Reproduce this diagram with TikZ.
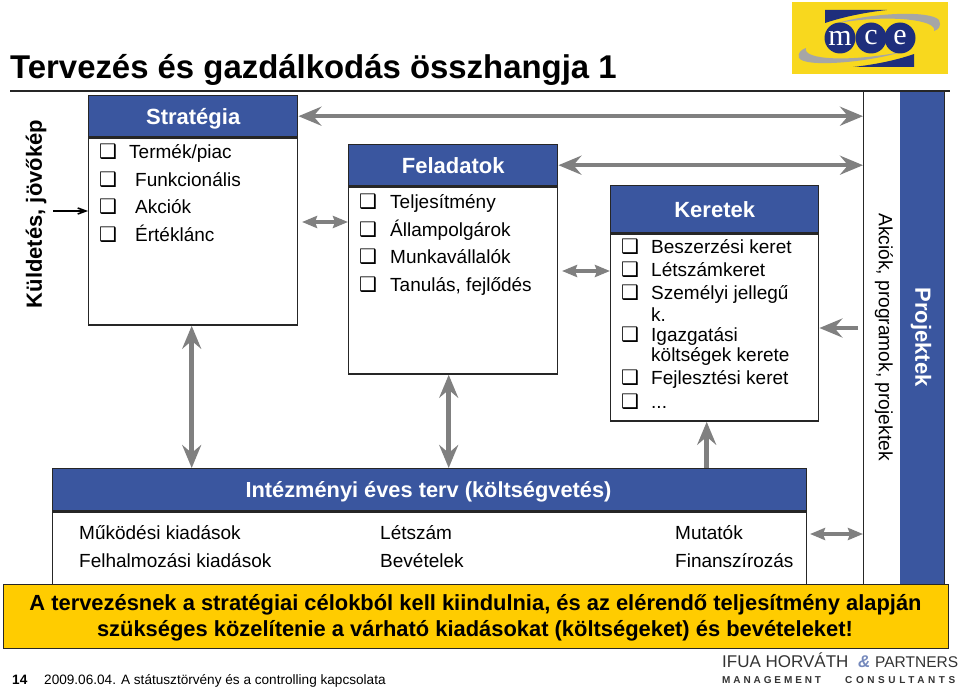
\documentclass[tikz,border=0pt]{standalone}
\usepackage{fontspec}
\setmainfont{Liberation Sans}
\newfontfamily\boxfont{DejaVu Sans}
\newfontfamily\logofont{Liberation Serif}
\usetikzlibrary{positioning,arrows.meta}
\definecolor{headblue}{HTML}{3A569F}
\definecolor{arrowgray}{HTML}{808080}
\definecolor{noteyellow}{HTML}{FFCC00}
\definecolor{logoyellow}{HTML}{F8D81E}
\definecolor{logoblue}{HTML}{1E2E7C}
\newcommand{\fs}[1]{\fontsize{#1}{#1}\selectfont}
\newcommand{\chk}{{\boxfont\fs{20}\symbol{"2751}}}
\begin{document}
\begin{tikzpicture}[
    x=1pt, y=-1pt,
    headbox/.style={rectangle, draw=black!85, line width=1.4pt, fill=headblue,
        text=white, font=\fs{22}\bfseries, inner sep=0pt, anchor=north west,
        text height=21pt, text depth=5pt},
    bodybox/.style={rectangle, draw=black!85, line width=1.4pt, fill=white,
        inner sep=0pt, anchor=north},
    item/.style={anchor=base west, inner sep=0pt, font=\fs{19}},
    biarrow/.style={draw=arrowgray, line width=4.5pt,
        {Stealth[length=23pt,width=19pt,inset=8pt]}-{Stealth[length=23pt,width=19pt,inset=8pt]}},
    uparrow/.style={draw=arrowgray, line width=4.5pt,
        -{Stealth[length=23pt,width=19pt,inset=8pt]}},
    minibiarrow/.style={draw=arrowgray, line width=3.5pt,
        {Stealth[length=15pt,width=12pt,inset=2pt]}-{Stealth[length=15pt,width=12pt,inset=2pt]}}
]
\useasboundingbox (0,0) rectangle (960,687);

% title and logo
\node (Title) [anchor=base west, inner sep=0pt, font=\fs{32.9}\bfseries] at (10,79)
  {Tervezés és gazdálkodás összhangja 1};
\node (Logo) [rectangle, fill=logoyellow, minimum width=156pt, minimum height=72pt,
  inner sep=0pt, anchor=north west] at (792,2) {};
\fill[logoblue] (825,10) -- (887,10) .. controls (860,13) and (840,18) .. (825,23) -- cycle;
\fill[logoblue] (914,67) -- (853,67) .. controls (880,64) and (900,59) .. (914,54) -- cycle;
\fill[arrowgray!70] (838,23) .. controls (870,13) and (930,10) .. (939,20)
  .. controls (942,26) and (938,30) .. (934,31)
  .. controls (938,20) and (890,14) .. (838,23) -- cycle;
\fill[arrowgray!70] (901,52) .. controls (870,62) and (805,68) .. (799,58)
  .. controls (797,53) and (802,49) .. (806,48)
  .. controls (802,60) and (850,62) .. (901,52) -- cycle;
\node (LogoM) [circle, fill=logoblue, minimum size=31pt, inner sep=0pt, text=white,
  font=\logofont\fs{30}] at (840,38) {m};
\node (LogoC) [circle, fill=logoblue, minimum size=31pt, inner sep=0pt, text=white,
  font=\logofont\fs{30}] at (871,38) {c};
\node (LogoE) [circle, fill=logoblue, minimum size=31pt, inner sep=0pt, text=white,
  font=\logofont\fs{30}] at (900,38) {e};

% right hand columns
\node (Akciok) [rectangle, draw=black!85, line width=1.4pt, minimum width=60pt,
  minimum height=496pt, inner sep=0pt, anchor=north west] at (863,91) {};
\node (Projektek) [rectangle, fill=headblue, minimum width=44pt, minimum height=496pt,
  inner sep=0pt, anchor=north west] at (900,91) {};
\draw[line width=1.2pt, black!85] (Projektek.north east) -- (Projektek.south east);
\draw[line width=1.4pt, black!85] (10,91) -- (950,91);
\node (AkciokText) [rotate=-90, inner sep=0pt, font=\fs{19.2}] at (884,337)
  {Akciók, programok, projektek};
\node (ProjektekText) [rotate=-90, inner sep=0pt, text=white, font=\fs{22}\bfseries] at (921,337)
  {Projektek};
\node (Kuldetes) [rotate=90, inner sep=0pt, font=\fs{22}\bfseries] at (36,214)
  {Küldetés, jövőkép};

% strategy
\node (StrategiaHead) [headbox, minimum width=209pt, minimum height=41pt] at (88,95) {Stratégia};
\node (Strategia) [bodybox, minimum width=209pt, minimum height=187pt, below=0pt of StrategiaHead] {};
\foreach \ypos/\xpos/\txt in {159/129/Termék\slash piac, 186/135/Funkcionális, 213/135/Akciók, 241/135/Értéklánc} {
  \node [item] at (\xpos,\ypos) {\txt};
  \node [item] at (99,\ypos) {\chk};
}

% tasks
\node (FeladatokHead) [headbox, minimum width=209pt, minimum height=41pt] at (348,144) {Feladatok};
\node (Feladatok) [bodybox, minimum width=209pt, minimum height=187pt, below=0pt of FeladatokHead] {};
\foreach \ypos/\txt in {208/Teljesítmény, 236/Állampolgárok, 263/Munkavállalók, 291/{Tanulás, fejlődés}} {
  \node [item] at (390,\ypos) {\txt};
  \node [item] at (359,\ypos) {\chk};
}

% limits
\node (KeretekHead) [headbox, minimum width=208pt, minimum height=47pt] at (610,185) {Keretek};
\node (Keretek) [bodybox, minimum width=208pt, minimum height=187pt, below=0pt of KeretekHead] {};
\foreach \ypos/\txt in {253/Beszerzési keret, 276/Létszámkeret, 299/Személyi jellegű, 341/Igazgatási, 384/Fejlesztési keret} {
  \node [item] at (651,\ypos) {\txt};
  \node [item] at (621,\ypos) {\chk};
}
\node [item] at (651,321) {k.};
\node [item] at (651,361) {költségek kerete};
\node [item] at (651,408) {...};
\node [item] at (621,408) {\chk};

% yearly plan
\node (TervHead) [headbox, minimum width=754pt, minimum height=42pt] at (52,468) {};
\node (TervTitle) [inner sep=0pt, anchor=base, text=white, font=\fs{21.8}\bfseries] at (428.5,497)
  {Intézményi éves terv (költségvetés)};
\node (Terv) [bodybox, minimum width=754pt, minimum height=78pt, below=0pt of TervHead] {};
\node [item] at (79,539) {Működési kiadások};
\node [item] at (79,567) {Felhalmozási kiadások};
\node [item] at (380,539) {Létszám};
\node [item] at (380,567) {Bevételek};
\node [item] at (675,539) {Mutatók};
\node [item] at (675,567) {Finanszírozás};

% connectors
\coordinate (KuldetesEnd) at (53,211);
\coordinate (TaskLeft) at (302,222);
\coordinate (LimitLeft) at (562,271);
\coordinate (PlanRight) at (810,534);
\coordinate (KeretekRight) at (858,328);
\draw[biarrow] (StrategiaHead.east) -- (StrategiaHead.east -| Akciok.west);
\draw[biarrow] (FeladatokHead.east) -- (FeladatokHead.east -| Akciok.west);
\draw[minibiarrow] (TaskLeft) -- (TaskLeft -| Feladatok.west);
\draw[minibiarrow] (LimitLeft) -- (LimitLeft -| Keretek.west);
\draw[minibiarrow] (PlanRight) -- (PlanRight -| Akciok.west);
\draw[uparrow] (KeretekRight) -- (KeretekRight -| Keretek.east);
\draw[biarrow] ([xshift=-1.5pt]Strategia.south) -- ([xshift=-1.5pt]Strategia.south |- TervHead.north);
\draw[biarrow] ([xshift=-4.5pt]Feladatok.south) -- ([xshift=-4.5pt]Feladatok.south |- TervHead.north);
\draw[uparrow] ([xshift=-8pt]TervHead.north -| Keretek.south) -- ([xshift=-8pt]Keretek.south);
\draw[black, line width=1.6pt, -{Straight Barb[length=8pt,width=6pt]}] (KuldetesEnd) -- (KuldetesEnd -| Strategia.west);

% note
\node (Note) [rectangle, draw=black!85, line width=1.4pt, fill=noteyellow, minimum width=945pt,
  minimum height=64pt, inner sep=0pt, anchor=north west] at (3,584) {};
\node (NoteOne) [inner sep=0pt, anchor=base, font=\fs{21.9}\bfseries] at (475.5,610)
  {A tervezésnek a stratégiai célokból kell kiindulnia, és az elérendő teljesítmény alapján};
\node (NoteTwo) [inner sep=0pt, anchor=base, font=\fs{21.9}\bfseries] at (475,636)
  {szükséges közelítenie a várható kiadásokat (költségeket) és bevételeket!};

% footer
\node (PageNum) [item, font=\fs{13.6}\bfseries] at (12,684) {14};
\node (Footer) [item, font=\fs{13.6}] at (44,684) {2009.06.04. A státusztörvény és a controlling kapcsolata};
\node (Ifua) [item, font=\fs{17}, text=black!80] at (722,667) {IFUA HORVÁTH};
\node (Amp) [item, font=\fs{17}\bfseries\itshape, text=headblue!70] at (858,667) {\&};
\node (Partners) [item, font=\fs{15.5}, text=black!80] at (875,667) {PARTNERS};
\node (Management) [item, font=\fs{10}\bfseries\addfontfeature{LetterSpace=29}, text=black!80] at (722,683)
  {MANAGEMENT};
\node (Consult) [item, font=\fs{10}\bfseries\addfontfeature{LetterSpace=36}, text=black!80] at (845,683)
  {CONSULTANTS};
\end{tikzpicture}
\end{document}
